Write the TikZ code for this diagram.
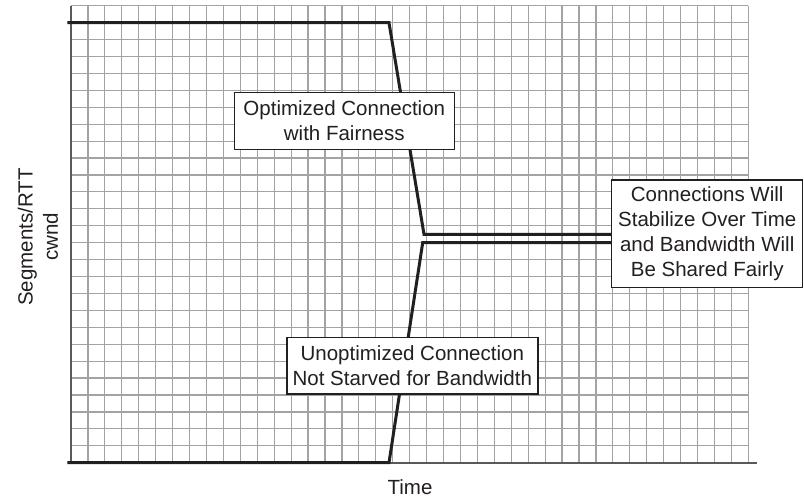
\documentclass[tikz,border=0pt]{standalone}
\usepackage{fontspec}
\setmainfont{Liberation Sans}
\definecolor{ink}{HTML}{231F20}
\definecolor{gridgray}{HTML}{A3A3A3}
\definecolor{axisgray}{HTML}{5A5A5A}
\begin{document}
\begin{tikzpicture}[x=1pt,y=-1pt,
  gridline/.style={draw=gridgray,line width=1.2pt},
  axisline/.style={draw=axisgray,line width=2pt},
  curve/.style={draw=ink,line width=3pt,line join=miter},
  callout/.style={draw=ink,line width=1.4pt,fill=white,align=center,
    inner sep=0pt,text=ink,font=\fontsize{20.5}{25.2}\selectfont},
  axislabel/.style={text=ink,align=center,font=\fontsize{20.5}{25.2}\selectfont}]
  \useasboundingbox (0,0) rectangle (804,500);

  % background grid: 40 x 27 cells
  \foreach \i in {0,...,40}
    \draw[gridline] ({71+\i*16.9325},5.7) -- ({71+\i*16.9325},462.7);
  \foreach \j in {0,...,27}
    \draw[gridline] (71,{5.7+\j*16.926}) -- (748.3,{5.7+\j*16.926});

  % axes
  \coordinate (origin) at (71,462.7);
  \coordinate (ytop) at (71,5.7);
  \coordinate (xend) at (756.7,462.7);
  \draw[axisline] (ytop) -- (origin) -- (xend);

  % optimized connection: drops to its fair share
  \coordinate (o0) at (67.3,22.7);
  \coordinate (o1) at (389,22.7);
  \coordinate (o2) at (424,234.3);
  \coordinate (o3) at (640,234.3);
  \draw[curve] (o0) -- (o1) -- (o2) -- (o3);

  % unoptimized connection: rises to its fair share
  \coordinate (u0) at (67.3,462.7);
  \coordinate (u1) at (389,462.7);
  \coordinate (u2) at (422.7,242.7);
  \coordinate (u3) at (640,242.7);
  \draw[curve] (u0) -- (u1) -- (u2) -- (u3);

  % callouts
  \node[callout,minimum width=220pt,minimum height=56.6pt] (opt) at (344.3,121)
    {Optimized Connection\\with Fairness};
  \node[callout,minimum width=191pt,minimum height=107.7pt] (stable) at (707.2,233.85)
    {Connections Will\\Stabilize Over Time\\and Bandwidth Will\\Be Shared Fairly};
  \node[callout,minimum width=251pt,minimum height=56.6pt] (unopt) at (412.3,365.7)
    {Unoptimized Connection\\Not Starved for Bandwidth};

  % axis labels
  \node[axislabel,rotate=90] (ylab) at (38,237) {Segments/RTT\\cwnd};
  \node[axislabel] (xlab) at (410,487) {Time};
\end{tikzpicture}
\end{document}
